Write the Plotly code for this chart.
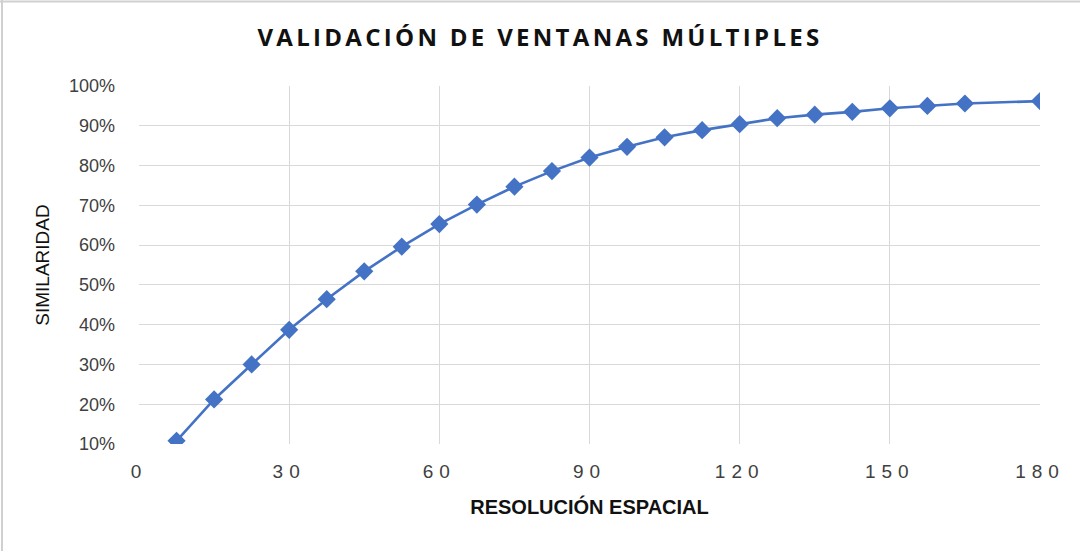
import plotly.graph_objects as go

resolucion = [7.5, 15, 22.5, 30, 37.5, 45, 52.5, 60, 67.5, 75, 82.5, 90,
              97.5, 105, 112.5, 120, 127.5, 135, 142.5, 150, 157.5, 165, 180]
similaridad = [0.108, 0.212, 0.300, 0.387, 0.464, 0.534, 0.596, 0.653, 0.702,
               0.747, 0.786, 0.820, 0.847, 0.871, 0.889, 0.904, 0.919, 0.928,
               0.935, 0.944, 0.950, 0.956, 0.962]
x_ticks = [0, 30, 60, 90, 120, 150, 180]
y_ticks = [0.1, 0.2, 0.3, 0.4, 0.5, 0.6, 0.7, 0.8, 0.9, 1.0]
y_tick_labels = ["10%", "20%", "30%", "40%", "50%", "60%", "70%", "80%", "90%", "100%"]
title_text = "VALIDACIÓN DE VENTANAS MÚLTIPLES"
x_title = "RESOLUCIÓN ESPACIAL"
y_title = "SIMILARIDAD"

W, H = 1080, 551
L, R, T, B = 139, 40, 86, 107
pw = W - L - R
ph = H - T - B


def spaced(s, px):
    return f"<span style='letter-spacing:{px}px'>{s}</span>"


fig = go.Figure()
fig.add_trace(go.Scatter(
    x=resolucion, y=similaridad, mode="lines+markers",
    line=dict(color="#4472C4", width=2.6),
    marker=dict(symbol="diamond", size=14, color="#4472C4"),
    showlegend=False,
))

fig.update_layout(
    width=W, height=H,
    margin=dict(l=L, r=R, t=T, b=B),
    paper_bgcolor="white", plot_bgcolor="white",
    title=dict(
        text="<b>" + spaced(title_text, 3.3) + "</b>",
        x=0.5, xref="container", xanchor="center", y=1 - 38 / H, yanchor="middle",
        font=dict(family="Open Sans", size=24, color="#111111"),
    ),
    xaxis=dict(
        range=[0, 180], tickvals=x_ticks,
        ticktext=[spaced(str(v), 6) for v in x_ticks],
        showgrid=True, gridcolor="#d9d9d9", gridwidth=1,
        zeroline=False, showline=False,
        tickfont=dict(family="Liberation Sans", size=19, color="#404040"),
        ticks="", ticklabelstandoff=14,
        title=dict(text="<b>" + x_title + "</b>", standoff=18,
                   font=dict(family="Liberation Sans", size=20, color="#111111")),
    ),
    yaxis=dict(
        range=[0.1, 1.0], tickvals=y_ticks, ticktext=y_tick_labels,
        showgrid=True, gridcolor="#d9d9d9", gridwidth=1,
        zeroline=False, showline=False,
        tickfont=dict(family="Liberation Sans", size=18, color="#404040"),
        ticks="", ticklabelstandoff=23,
        title=dict(text=y_title, standoff=14,
                   font=dict(family="Liberation Sans", size=19, color="#111111")),
    ),
    shapes=[
        dict(type="line", xref="paper", yref="paper",
             x0=-L / pw, x1=(W - L) / pw, y0=1 + (T - 1.5) / ph, y1=1 + (T - 1.5) / ph,
             line=dict(color="#d0d0d0", width=2)),
        dict(type="line", xref="paper", yref="paper",
             x0=-(L - 2) / pw, x1=-(L - 2) / pw, y0=-B / ph, y1=1 + T / ph,
             line=dict(color="#d0d0d0", width=2)),
    ],
)

fig.write_html("out.html", config={"displayModeBar": False},
               post_script="document.body.style.margin='0';")
